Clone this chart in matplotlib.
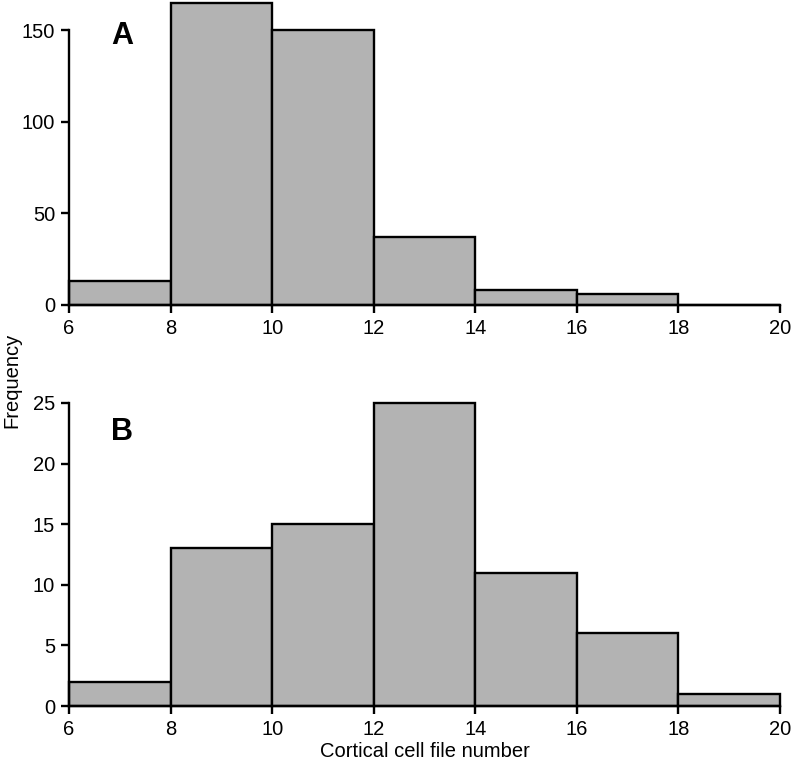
import numpy as np
import matplotlib.pyplot as plt

plt.rcParams['font.family'] = ['Liberation Sans', 'DejaVu Sans']

# bin edges shared by both panels
edges = [6, 8, 10, 12, 14, 16, 18, 20]
counts_a = [13, 165, 150, 37, 8, 6, 0]
counts_b = [2, 13, 15, 25, 11, 6, 1]
xticks = [6, 8, 10, 12, 14, 16, 18, 20]
yticks_a = [0, 50, 100, 150]
yticks_b = [0, 5, 10, 15, 20, 25]

fig = plt.figure(figsize=(7.93, 7.62), dpi=100)
ax1 = fig.add_axes([69/793, 1 - 305/762, 711/793, 302.5/762])
ax2 = fig.add_axes([69/793, 1 - 706/762, 711/793, 303/762])

def panel(ax, counts, yticks, ymax, letter, ly):
    lefts = np.array(edges[:-1])
    widths = np.diff(edges)
    ax.bar(lefts, counts, width=widths, align='edge', color='#b3b3b3',
           edgecolor='black', linewidth=1.7, clip_on=False)
    ax.set_xlim(6, 20)
    ax.set_ylim(0, ymax)
    ax.set_xticks(xticks)
    ax.set_yticks(yticks)
    for s in ['top', 'right']:
        ax.spines[s].set_visible(False)
    for s in ['left', 'bottom']:
        ax.spines[s].set_linewidth(1.7)
    ax.spines['left'].set_bounds(yticks[0], yticks[-1])
    ax.tick_params(direction='out', length=6, width=1.7, labelsize=14.5, pad=4)
    ax.text(7.05, ly, letter, fontsize=22, fontweight='bold', ha='center', va='center')

panel(ax1, counts_a, yticks_a, 165, 'A', 147)
panel(ax2, counts_b, yticks_b, 25, 'B', 22.6)

ax2.set_xlabel('Cortical cell file number', fontsize=14.5, labelpad=2)
fig.text(12/793, 1 - 380/762, 'Frequency', rotation=90, fontsize=14.5,
         ha='center', va='center')

fig.savefig('out.png', dpi=100)
